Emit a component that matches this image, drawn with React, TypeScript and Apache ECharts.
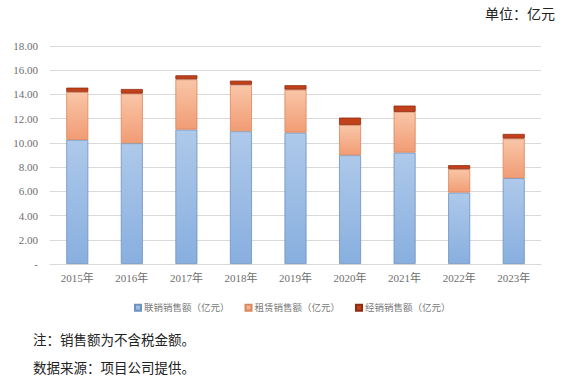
import React, { useEffect, useRef } from "react";
import * as echarts from "echarts";

const categories = ["2015年", "2016年", "2017年", "2018年", "2019年", "2020年", "2021年", "2022年", "2023年"];
const jointSales = [10.25, 9.97, 11.1, 10.96, 10.85, 8.98, 9.2, 5.9, 7.09];
const leaseSales = [3.95, 4.1, 4.15, 3.84, 3.55, 2.5, 3.36, 1.93, 3.27];
const distSales = [0.36, 0.38, 0.33, 0.34, 0.36, 0.61, 0.52, 0.33, 0.38];
const seriesNames = ["联销销售额（亿元）", "租赁销售额（亿元）", "经销销售额（亿元）"];
const unitText = "单位：亿元";
const noteText = "注：销售额为不含税金额。";
const sourceText = "数据来源：项目公司提供。";

const serif = "'Liberation Serif', 'Times New Roman', 'Noto Sans CJK SC', serif";

export default function App() {
  const ref = useRef<HTMLDivElement>(null);
  useEffect(() => {
    document.body.style.margin = "0";
    const chart = echarts.init(ref.current!, null, { renderer: "svg" });
    const grad = (a: string, b: string) =>
      new echarts.graphic.LinearGradient(0, 0, 0, 1, [
        { offset: 0, color: a },
        { offset: 1, color: b },
      ]);
    chart.setOption({
      animation: false,
      backgroundColor: "#ffffff",
      grid: { left: 50, right: 29, top: 46, bottom: 118 },
      legend: {
        top: 298,
        left: 129,
        itemWidth: 6,
        itemHeight: 6,
        itemGap: 15,
        icon: "rect",
        textStyle: { fontFamily: serif, fontSize: 9.5, color: "#7a7a7a", padding: [0, 0, 0, -2] },
        data: seriesNames,
      },
      xAxis: {
        type: "category",
        data: categories,
        axisLine: { lineStyle: { color: "#d9d9d9" } },
        axisTick: { show: false },
        axisLabel: { fontFamily: serif, fontSize: 11, color: "#6e6e6e", margin: 8 },
      },
      yAxis: {
        type: "value",
        min: 0,
        max: 18,
        interval: 2,
        axisLine: { show: false },
        axisTick: { show: false },
        splitLine: { lineStyle: { color: "#d9d9d9" } },
        axisLabel: {
          fontFamily: serif,
          fontSize: 11,
          color: "#6e6e6e",
          margin: 12,
          formatter: (v: number) => (v === 0 ? "-" : v.toFixed(2)),
        },
      },
      series: [
        {
          name: seriesNames[0],
          type: "bar",
          stack: "s",
          barWidth: 22,
          data: jointSales,
          itemStyle: { color: grad("#aec9ea", "#88afdf"), borderColor: "#6f91bd", borderWidth: 0.8 },
        },
        {
          name: seriesNames[1],
          type: "bar",
          stack: "s",
          data: leaseSales,
          itemStyle: { color: grad("#f9c6a8", "#f19c74"), borderColor: "#d9875c", borderWidth: 0.8 },
        },
        {
          name: seriesNames[2],
          type: "bar",
          stack: "s",
          data: distSales,
          itemStyle: { color: "#c2401a", borderColor: "#8f2c10", borderWidth: 0.8 },
        },
      ],
      graphic: [
        {
          type: "text",
          right: 15,
          top: 7,
          style: { text: unitText, fontFamily: serif, fontSize: 14, fill: "#222" },
        },
        {
          type: "text",
          left: 33,
          top: 334,
          style: { text: noteText, fontFamily: serif, fontSize: 13.5, fill: "#222" },
        },
        {
          type: "text",
          left: 33,
          top: 362,
          style: { text: sourceText, fontFamily: serif, fontSize: 13.5, fill: "#222" },
        },
      ],
    });
    return () => chart.dispose();
  }, []);
  return <div ref={ref} style={{ width: 570, height: 382 }} />;
}
